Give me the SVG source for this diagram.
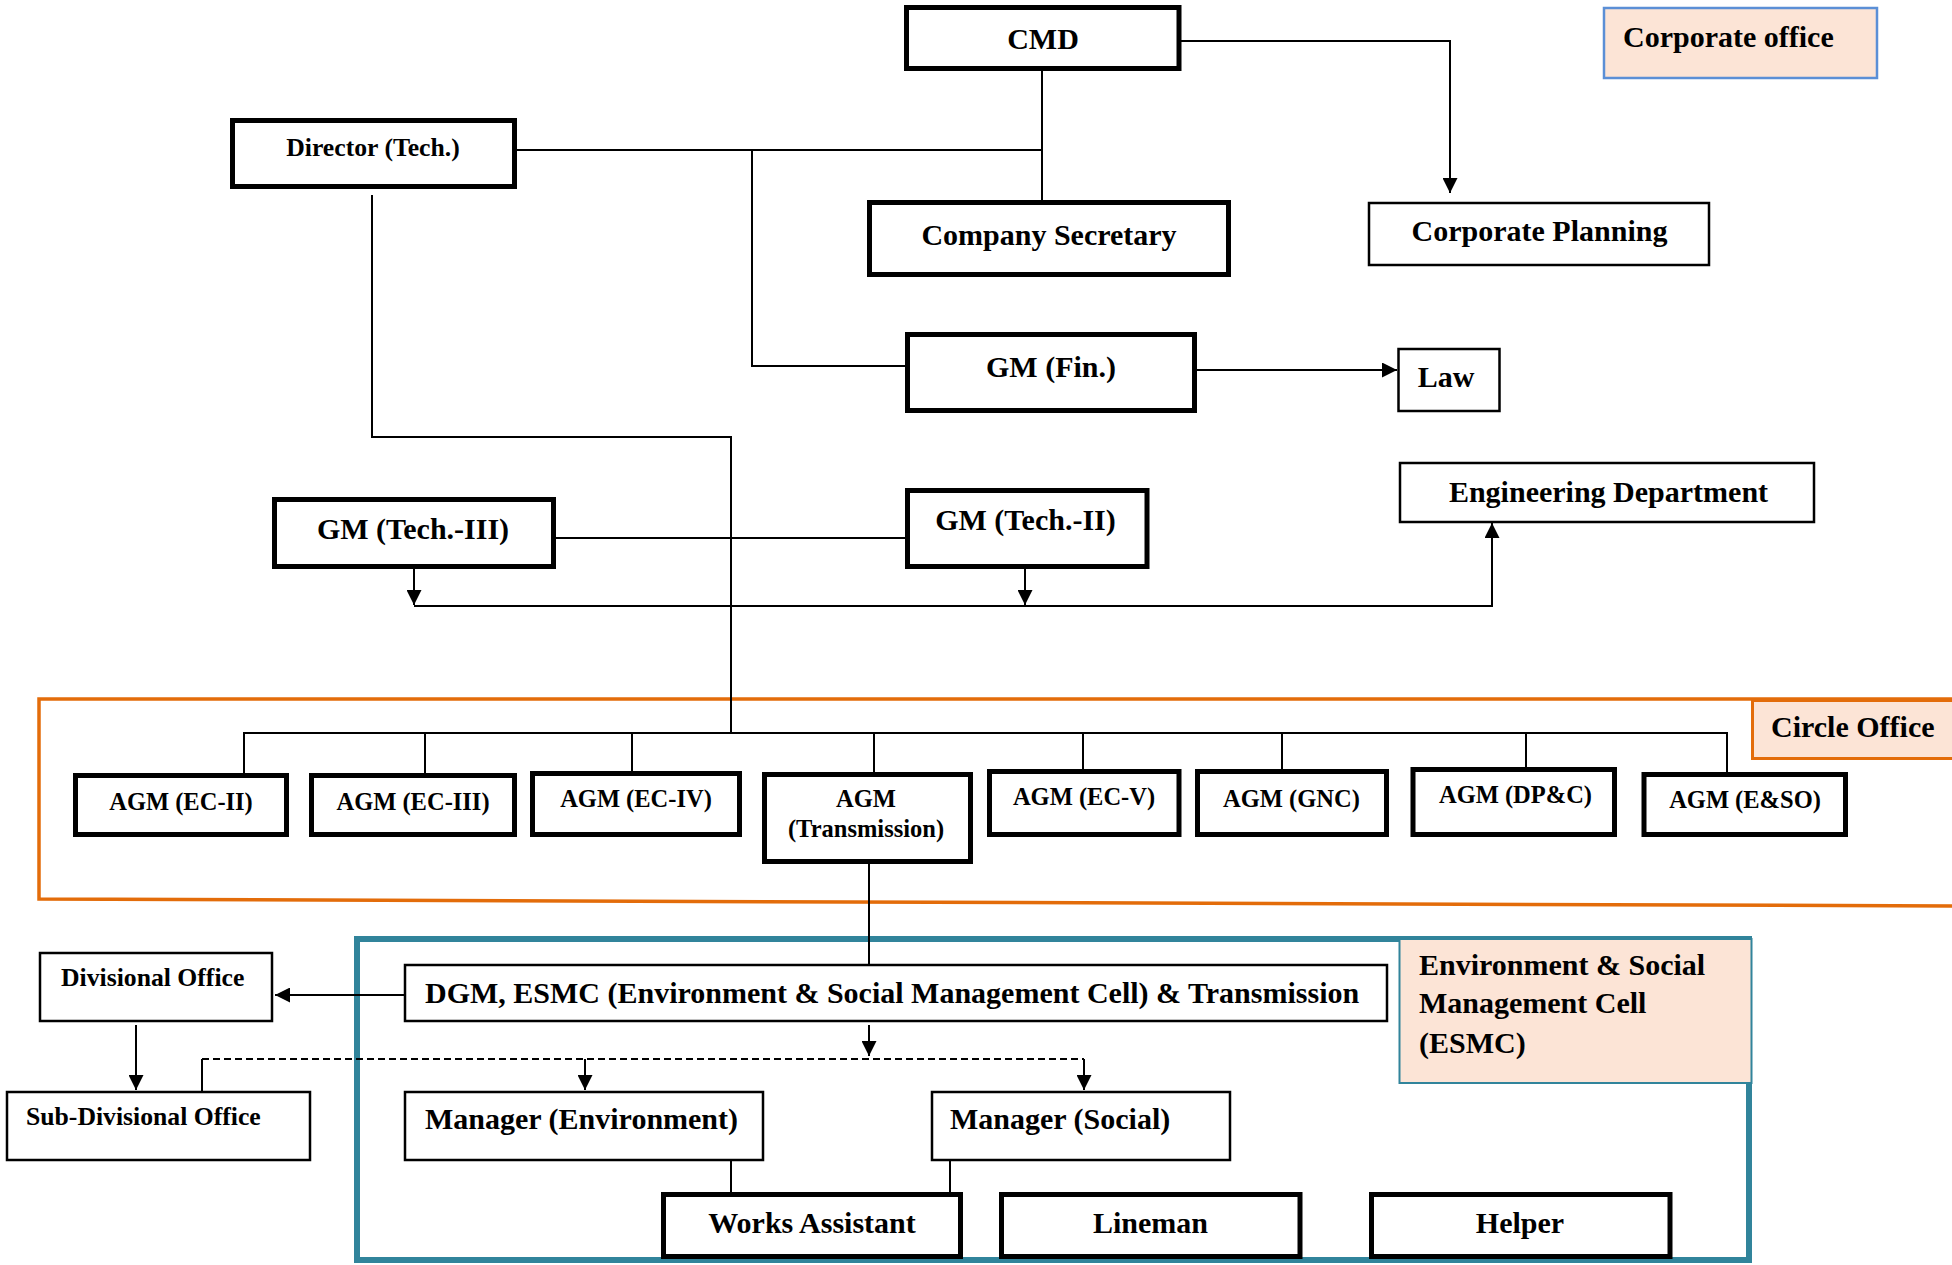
<svg xmlns="http://www.w3.org/2000/svg" width="1952" height="1265" viewBox="0 0 1952 1265">
<style>
text{font-family:"Liberation Serif","Times New Roman",serif;font-weight:bold;fill:#000}
.t30{font-size:30px}
.t26{font-size:25.7px}
.t24{font-size:24.5px}
.mid{text-anchor:middle}
.thick{fill:#fff;stroke:#000;stroke-width:5}
.thin{fill:#fff;stroke:#000;stroke-width:2.5}
.ln{fill:none;stroke:#000;stroke-width:2}
.dash{fill:none;stroke:#000;stroke-width:2;stroke-dasharray:7 4}
.lab{fill:#FCE4D6}
</style>
<defs>
<marker id="arr" viewBox="0 0 10 10" refX="10" refY="5" markerWidth="15" markerHeight="15" markerUnits="userSpaceOnUse" orient="auto">
<path d="M0,0 L10,5 L0,10 z" fill="#000"/>
</marker>
</defs>
<rect width="1952" height="1265" fill="#fff"/>
<g id="frames">
<path id="circle-frame" d="M1960 699 H39 V899 L1960 906" fill="none" stroke="#E36C0A" stroke-width="3.5"/>
<rect id="esmc-frame" x="357" y="939" width="1392" height="321" fill="none" stroke="#31849B" stroke-width="6"/>
</g>
<g id="connectors">
<path class="ln" d="M1181 41 H1450 V193" marker-end="url(#arr)"/>
<path class="ln" d="M1042 71 V200"/>
<path class="ln" d="M517 150 H1042"/>
<path class="ln" d="M752 150 V366 H905"/>
<path class="ln" d="M1197 370 H1397" marker-end="url(#arr)"/>
<path class="ln" d="M372 195 V437 H731 V734"/>
<path class="ln" d="M556 538 H905"/>
<path class="ln" d="M414 569 V605" marker-end="url(#arr)"/>
<path class="ln" d="M1025 569 V605" marker-end="url(#arr)"/>
<path class="ln" d="M414 606 H1492 V523" marker-end="url(#arr)"/>
<path class="ln" d="M244 773 V733 H1727 V772"/>
<path class="ln" d="M425 734 V773"/>
<path class="ln" d="M632 734 V771"/>
<path class="ln" d="M874 734 V772"/>
<path class="ln" d="M1083 734 V769"/>
<path class="ln" d="M1282 734 V769"/>
<path class="ln" d="M1526 734 V767"/>
<path class="ln" d="M869 864 V964"/>
<path class="ln" d="M404 995 H275" marker-end="url(#arr)"/>
<path class="ln" d="M136 1025 V1090" marker-end="url(#arr)"/>
<path class="ln" d="M869 1025 V1056" marker-end="url(#arr)"/>
<path class="ln" d="M202 1091 V1059"/>
<path class="dash" d="M202 1059 H1084"/>
<path class="ln" d="M585 1059 V1090" marker-end="url(#arr)"/>
<path class="ln" d="M1084 1059 V1090" marker-end="url(#arr)"/>
<path class="ln" d="M731 1161 V1192"/>
<path class="ln" d="M950 1161 V1192"/>
</g>
<g id="corporate-office-label">
<rect class="lab" x="1604" y="8" width="273" height="70" stroke="#5B8FD6" stroke-width="2.5"/>
<text class="t30" x="1623" y="47">Corporate office</text>
</g>
<g id="cmd">
<rect class="thick" x="906.5" y="7.5" width="272.5" height="61"/>
<text class="t30 mid" x="1043" y="49">CMD</text>
</g>
<g id="director-tech">
<rect class="thick" x="232.5" y="120.5" width="282" height="66"/>
<text class="t26 mid" x="373" y="156">Director (Tech.)</text>
</g>
<g id="company-secretary">
<rect class="thick" x="869.5" y="202.5" width="359" height="72"/>
<text class="t30 mid" x="1049" y="245">Company Secretary</text>
</g>
<g id="corporate-planning">
<rect class="thin" x="1369" y="203" width="340" height="62"/>
<text class="t30 mid" x="1539.5" y="241">Corporate Planning</text>
</g>
<g id="gm-fin">
<rect class="thick" x="907.5" y="334.5" width="287" height="76"/>
<text class="t30 mid" x="1051" y="377">GM (Fin.)</text>
</g>
<g id="law">
<rect class="thin" x="1398.5" y="349" width="101" height="62"/>
<text class="t30 mid" x="1446" y="387">Law</text>
</g>
<g id="engineering-department">
<rect class="thin" x="1400" y="463" width="414" height="59"/>
<text class="t30 mid" x="1608.5" y="502">Engineering Department</text>
</g>
<g id="gm-tech-iii">
<rect class="thick" x="274.5" y="499.5" width="279" height="67"/>
<text class="t30 mid" x="413" y="539">GM (Tech.-III)</text>
</g>
<g id="gm-tech-ii">
<rect class="thick" x="907.5" y="490.5" width="239.5" height="76"/>
<text class="t30 mid" x="1025.5" y="530">GM (Tech.-II)</text>
</g>
<g id="circle-office-label">
<rect class="lab" x="1752.5" y="700.5" width="210" height="58" stroke="#E36C0A" stroke-width="3"/>
<text class="t30" x="1771" y="737">Circle Office</text>
</g>
<g id="agm-ec-ii">
<rect class="thick" x="75.5" y="775.5" width="211" height="59"/>
<text class="t24 mid" x="181" y="810">AGM (EC-II)</text>
</g>
<g id="agm-ec-iii">
<rect class="thick" x="311.5" y="775.5" width="203" height="59"/>
<text class="t24 mid" x="413" y="810">AGM (EC-III)</text>
</g>
<g id="agm-ec-iv">
<rect class="thick" x="532.5" y="773.5" width="207" height="61"/>
<text class="t24 mid" x="636" y="807">AGM (EC-IV)</text>
</g>
<g id="agm-transmission">
<rect class="thick" x="764.5" y="774.5" width="206" height="87"/>
<text class="t24 mid" x="866" y="807">AGM</text>
<text class="t24 mid" x="866" y="837">(Transmission)</text>
</g>
<g id="agm-ec-v">
<rect class="thick" x="989.5" y="771.5" width="189.5" height="63"/>
<text class="t24 mid" x="1084" y="805">AGM (EC-V)</text>
</g>
<g id="agm-gnc">
<rect class="thick" x="1197.5" y="771.5" width="189" height="63"/>
<text class="t24 mid" x="1291.5" y="807">AGM (GNC)</text>
</g>
<g id="agm-dpc">
<rect class="thick" x="1413" y="769.5" width="201.5" height="65"/>
<text class="t24 mid" x="1515.5" y="803">AGM (DP&amp;C)</text>
</g>
<g id="agm-eso">
<rect class="thick" x="1644" y="774.5" width="201.5" height="60"/>
<text class="t24 mid" x="1745" y="808">AGM (E&amp;SO)</text>
</g>
<g id="esmc-label">
<rect class="lab" x="1399.5" y="939" width="352" height="144" stroke="#31849B" stroke-width="2"/>
<text class="t30" x="1419" y="975">Environment &amp; Social</text>
<text class="t30" x="1419" y="1013">Management Cell</text>
<text class="t30" x="1419" y="1053">(ESMC)</text>
</g>
<g id="dgm-esmc">
<rect class="thin" x="405" y="965" width="982" height="56"/>
<text class="t30" x="425" y="1003">DGM, ESMC (Environment &amp; Social Management Cell) &amp; Transmission</text>
</g>
<g id="divisional-office">
<rect class="thin" x="40" y="953" width="232" height="68"/>
<text class="t26" x="61" y="986">Divisional Office</text>
</g>
<g id="sub-divisional-office">
<rect class="thin" x="7" y="1092" width="303" height="68"/>
<text class="t26" x="26" y="1125">Sub-Divisional Office</text>
</g>
<g id="manager-environment">
<rect class="thin" x="405" y="1092" width="358" height="68"/>
<text class="t30" x="425" y="1129">Manager (Environment)</text>
</g>
<g id="manager-social">
<rect class="thin" x="932" y="1092" width="298" height="68"/>
<text class="t30" x="950" y="1129">Manager (Social)</text>
</g>
<g id="works-assistant">
<rect class="thick" x="663.5" y="1194.5" width="297" height="62"/>
<text class="t30 mid" x="812" y="1233">Works Assistant</text>
</g>
<g id="lineman">
<rect class="thick" x="1001.5" y="1194.5" width="298.5" height="62"/>
<text class="t30 mid" x="1150.5" y="1233">Lineman</text>
</g>
<g id="helper">
<rect class="thick" x="1371.5" y="1194.5" width="298.5" height="62"/>
<text class="t30 mid" x="1520" y="1233">Helper</text>
</g>
</svg>
